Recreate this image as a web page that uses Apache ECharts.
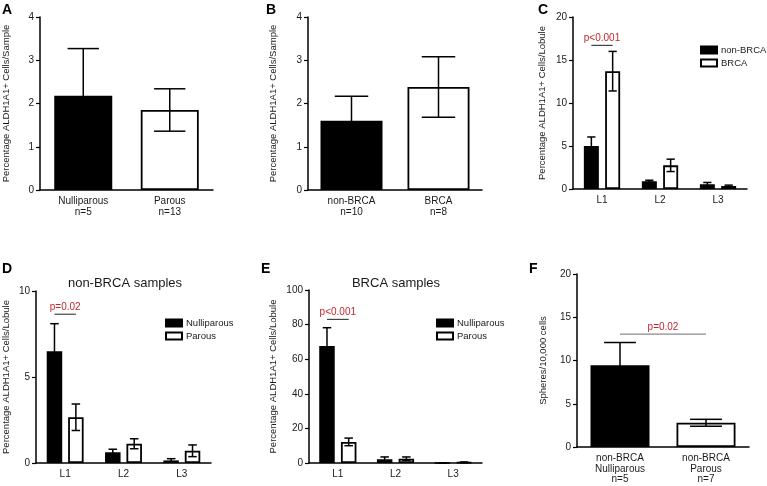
<!DOCTYPE html>
<html>
<head>
<meta charset="utf-8">
<script src="https://cdn.jsdelivr.net/npm/echarts@6/dist/echarts.min.js"></script>
<style>
html,body{margin:0;padding:0;background:#fff;}
#c{width:767px;height:486px;}
</style>
</head>
<body>
<div id="c"></div>
<script>
// ---------- DATA ----------
const catsA = ['Nulliparous\nn=5', 'Parous\nn=13'];
const valsA = [2.18, 1.85];
const errA = [1.09, 0.49];

const catsB = ['non-BRCA\nn=10', 'BRCA\nn=8'];
const valsB = [1.6, 2.38];
const errB = [0.57, 0.70];

const catsC = ['L1', 'L2', 'L3'];
const valsCnon = [5.0, 0.9, 0.54];
const errCnon = [1.05, 0.12, 0.22];
const valsCbrca = [13.7, 2.75, 0.35];
const errCbrca = [2.3, 0.72, 0.1];

const catsD = ['L1', 'L2', 'L3'];
const valsDnull = [6.5, 0.62, 0.15];
const errDnull = [1.6, 0.18, 0.1];
const valsDpar = [2.66, 1.12, 0.71];
const errDpar = [0.77, 0.29, 0.34];

const catsE = ['L1', 'L2', 'L3'];
const valsEnull = [67.6, 2.1, 0];
const errEnull = [10.6, 1.4, 0];
const valsEpar = [12.2, 2.5, 0.4];
const errEpar = [2.2, 1.0, 0.2];

const catsF = ['non-BRCA\nNulliparous\nn=5', 'non-BRCA\nParous\nn=7'];
const valsF = [9.46, 2.8];
const errF = [2.62, 0.4];

const yTicks = {A: [0, 4, 1], B: [0, 4, 1], C: [0, 20, 5], D: [0, 10, 5], E: [0, 100, 20], F: [0, 20, 5]};

const sig = [
  {panel: 'C', x0: 0, x1: 0, y: 16.7, text: 'p<0.001'},
  {panel: 'D', x0: 0, x1: 0, y: 8.65, text: 'p=0.02'},
  {panel: 'E', x0: 0, x1: 0, y: 83, text: 'p<0.001'},
  {panel: 'F', x0: 0, x1: 1, y: 13.05, text: 'p=0.02'}
];

// ---------- STYLE ----------
const FONT = '"Liberation Sans", Arial, Helvetica, sans-serif';
const TXT = '#1a1a1a';
const RED = '#c1272d';
const panels = ['A', 'B', 'C', 'D', 'E', 'F'];
const grids = {
  A: {left: 40, top: 17, width: 173, height: 173},
  B: {left: 308, top: 17, width: 174, height: 173},
  C: {left: 573, top: 17, width: 174, height: 172},
  D: {left: 36, top: 291, width: 175, height: 172},
  E: {left: 309, top: 290, width: 173, height: 173},
  F: {left: 577, top: 274, width: 172, height: 173}
};
const yNames = {
  A: 'Percentage ALDH1A1+ Cells/Sample',
  B: 'Percentage ALDH1A1+ Cells/Sample',
  C: 'Percentage ALDH1A1+ Cells/Lobule',
  D: 'Percentage ALDH1A1+ Cells/Lobule',
  E: 'Percentage ALDH1A1+ Cells/Lobule',
  F: 'Spheres/10,000 cells'
};
const yNameGap = {A: 29, B: 30, C: 26, D: 25, E: 31, F: 29};
const cats = {A: catsA, B: catsB, C: catsC, D: catsD, E: catsE, F: catsF};

const blackStyle = {color: '#000', borderColor: '#000', borderWidth: 1.5};
const whiteStyle = {color: '#fff', borderColor: '#000', borderWidth: 1.8};

const legendBase = {orient: 'vertical', itemWidth: 16, itemHeight: 7, itemGap: 3, padding: 0, icon: 'rect',
  textStyle: {fontSize: 9.5, color: TXT, fontFamily: FONT, padding: [0, 0, 0, -1]}, selectedMode: false};

const option = {
  animation: false,
  backgroundColor: '#fff',
  textStyle: {fontFamily: FONT},
  grid: panels.map(p => Object.assign({containLabel: false}, grids[p])),
  xAxis: panels.map((p, i) => ({
    type: 'category', gridIndex: i, data: cats[p],
    axisLine: {lineStyle: {color: '#000', width: 1.5}},
    axisTick: {alignWithLabel: true, length: 4, lineStyle: {color: '#000', width: 1.2}},
    axisLabel: {color: TXT, fontSize: 10, fontFamily: FONT, lineHeight: 10.5, margin: 6, interval: 0}
  })),
  yAxis: panels.map((p, i) => ({
    type: 'value', gridIndex: i,
    min: yTicks[p][0], max: yTicks[p][1], interval: yTicks[p][2],
    name: yNames[p], nameLocation: 'middle', nameGap: yNameGap[p], nameRotate: 90,
    nameTextStyle: {color: TXT, fontSize: 9.5, fontFamily: FONT},
    axisLine: {show: true, lineStyle: {color: '#000', width: 1.5}},
    axisTick: {show: true, length: 4, lineStyle: {color: '#000', width: 1.2}},
    axisLabel: {color: TXT, fontSize: 10, fontFamily: FONT, margin: 6},
    splitLine: {show: false}
  })),
  legend: [
    Object.assign({data: ['non-BRCA', 'BRCA'], left: 700, top: 45}, legendBase),
    Object.assign({data: ['Nulliparous', 'Parous'], left: 165, top: 318}, legendBase),
    Object.assign({data: ['Nulliparous', 'Parous'], left: 436, top: 318}, legendBase)
  ],
  graphic: [],
  series: []
};

// panel letters and titles
const letterPos = {A: [2, 3], B: [266, 3], C: [538, 3], D: [2, 262], E: [261, 262], F: [529, 262]};
panels.forEach(p => {
  option.graphic.push({type: 'text', left: letterPos[p][0], top: letterPos[p][1],
    style: {text: p, font: 'bold 14px ' + FONT, fill: '#000'}});
});
option.graphic.push({type: 'text', x: 125, y: 283, style: {text: 'non-BRCA samples', font: '13px ' + FONT, fill: TXT, align: 'center', verticalAlign: 'middle'}});
option.graphic.push({type: 'text', x: 396, y: 283, style: {text: 'BRCA samples', font: '13px ' + FONT, fill: TXT, align: 'center', verticalAlign: 'middle'}});

function errSeries(idx, vals, errs, offset, capW) {
  return {
    type: 'custom', xAxisIndex: idx, yAxisIndex: idx, z: 5, silent: true, clip: false,
    data: vals.map((v, i) => [i, v - errs[i], v + errs[i]]),
    renderItem: function (params, api) {
      const hi = api.coord([api.value(0), api.value(2)]);
      const lo = api.coord([api.value(0), api.value(1)]);
      const x = hi[0] + offset;
      const st = {stroke: '#000', lineWidth: 1.5};
      return {type: 'group', children: [
        {type: 'line', shape: {x1: x, y1: hi[1], x2: x, y2: lo[1]}, style: st},
        {type: 'line', shape: {x1: x - capW / 2, y1: hi[1], x2: x + capW / 2, y2: hi[1]}, style: st},
        {type: 'line', shape: {x1: x - capW / 2, y1: lo[1], x2: x + capW / 2, y2: lo[1]}, style: st}
      ]};
    }
  };
}

function single(idx, name, vals, errs, bw) {
  option.series.push({
    type: 'bar', name: name, xAxisIndex: idx, yAxisIndex: idx, barWidth: bw,
    data: vals.map((v, i) => ({value: v, itemStyle: i === 0 ? blackStyle : whiteStyle}))
  });
  option.series.push(errSeries(idx, vals, errs, 0, bw * 0.54));
}

function grouped(idx, n1, v1, e1, n2, v2, e2, bw, gap) {
  option.series.push({type: 'bar', name: n1, xAxisIndex: idx, yAxisIndex: idx, barWidth: bw, barGap: (gap * 100) + '%', itemStyle: blackStyle, data: v1});
  option.series.push({type: 'bar', name: n2, xAxisIndex: idx, yAxisIndex: idx, barWidth: bw, barGap: (gap * 100) + '%', itemStyle: whiteStyle, data: v2});
  const off = bw * (1 + gap) / 2;
  option.series.push(errSeries(idx, v1, e1, -off, bw * 0.55));
  option.series.push(errSeries(idx, v2, e2, off, bw * 0.55));
  return off;
}

single(0, 'sA', valsA, errA, 58);
single(1, 'sB', valsB, errB, 62);
const offC = grouped(2, 'non-BRCA', valsCnon, errCnon, 'BRCA', valsCbrca, errCbrca, 15, 0.42);
const offD = grouped(3, 'Nulliparous', valsDnull, errDnull, 'Parous', valsDpar, errDpar, 15.5, 0.38);
const offE = grouped(4, 'Nulliparous', valsEnull, errEnull, 'Parous', valsEpar, errEpar, 15.5, 0.4);
single(5, 'sF', valsF, errF, 59);

const offs = {C: offC, D: offD, E: offE, F: 0};
sig.forEach(s => {
  const idx = panels.indexOf(s.panel);
  const o = offs[s.panel];
  const lineColor = s.panel === 'F' ? '#8a8a8a' : '#444';
  option.series.push({
    type: 'custom', xAxisIndex: idx, yAxisIndex: idx, z: 6, silent: true, clip: false,
    data: [[s.x0, s.x1, s.y]],
    renderItem: function (params, api) {
      const a = api.coord([api.value(0), api.value(2)]);
      const b = api.coord([api.value(1), api.value(2)]);
      const x1 = a[0] - o, x2 = b[0] + o;
      return {type: 'group', children: [
        {type: 'line', shape: {x1: x1, y1: a[1], x2: x2, y2: a[1]}, style: {stroke: lineColor, lineWidth: 1.2}},
        {type: 'text', x: (x1 + x2) / 2, y: a[1] - 2, style: {text: s.text, fill: RED, font: '10px ' + FONT, align: 'center', verticalAlign: 'bottom'}}
      ]};
    }
  });
});

const chart = echarts.init(document.getElementById('c'), null, {renderer: 'canvas'});
chart.setOption(option);
</script>
</body>
</html>
